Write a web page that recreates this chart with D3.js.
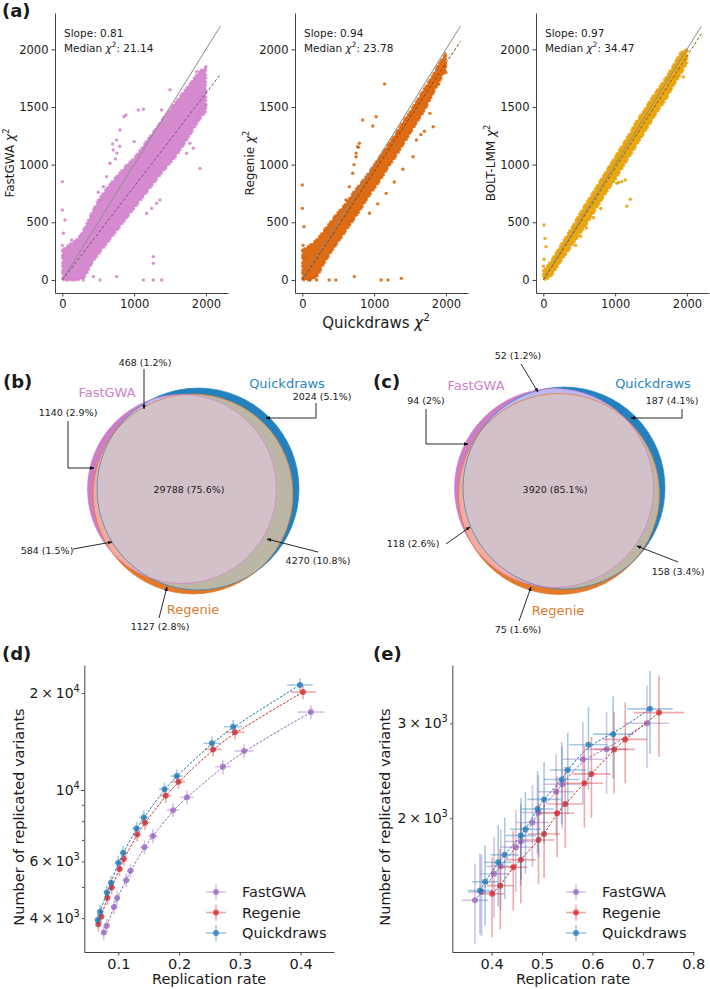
<!DOCTYPE html>
<html>
<head>
<meta charset="utf-8">
<script src="https://cdn.jsdelivr.net/npm/d3@7"></script>
<style>
body { margin: 0; background: #fff; }
text { font-family: "DejaVu Sans", sans-serif; fill: #1a1a1a; }
</style>
</head>
<body>
<svg id="fig" width="710" height="989"></svg>
<script>
// ---------- (a) chi-square scatter ----------
const methodsA = ['FastGWA', 'Regenie', 'BOLT-LMM'];
const slopesA = [0.81, 0.94, 0.97];
const medianChi2 = ['21.14', '23.78', '34.47'];
const chiTicksY = [0, 500, 1000, 1500, 2000];
const chiTicksX = [0, 1000, 2000];

// dense core of each cloud: lower / upper edge at bandX
const bandX = [0, 100, 200, 300, 400, 500, 600, 700, 800, 900, 1000, 1100, 1200, 1300, 1400, 1500, 1600, 1700, 1800, 1900, 2000];
const fastgwaHi = [260, 310, 350, 440, 570, 690, 780, 860, 930, 1000, 1060, 1140, 1230, 1310, 1400, 1480, 1560, 1640, 1720, 1800, 1840];
const fastgwaLo = [0, 0, 0, 20, 130, 220, 300, 380, 460, 540, 620, 700, 780, 860, 940, 1010, 1090, 1180, 1280, 1380, 1460];
const regenieHi = [260, 300, 350, 430, 510, 590, 660, 750, 830, 910, 1000, 1090, 1180, 1270, 1370, 1460, 1560, 1660, 1760, 1870, 1970];
const regenieLo = [0, 0, 30, 140, 240, 330, 420, 510, 600, 700, 790, 880, 980, 1070, 1170, 1270, 1370, 1470, 1590, 1710, 1830];
const boltHi = [80, 160, 260, 360, 460, 570, 670, 770, 870, 970, 1070, 1170, 1270, 1380, 1470, 1570, 1660, 1750, 1850, 1960, 2000];
const boltLo = [0, 30, 120, 210, 300, 390, 480, 580, 680, 780, 870, 970, 1070, 1170, 1270, 1370, 1470, 1560, 1670, 1770, 1880];

// scattered points outside the core
const fastgwaPts = [[0, 853], [0, 607], [14, 405], [37, 520], [0, 300], [10, 200], [60, 0], [150, 0], [200, 10],
  [292, 0], [524, 0], [1128, 0], [1267, 0], [1383, 0], [1267, 202], [1267, 145], [756, 29], [432, 29],
  [93, 289], [130, 347], [450, 620], [500, 760], [524, 694], [571, 809], [617, 896], [664, 1012], [710, 1127],
  [756, 1214], [803, 1300], [858, 1416], [886, 1430], [700, 1180], [760, 1100], [800, 1160], [740, 1050],
  [1000, 1200], [1058, 1474], [1128, 1480], [1383, 1474], [1174, 578], [1244, 621], [1313, 665], [1360, 694],
  [1600, 1240], [1731, 1098], [1777, 1185], [1824, 1142], [1916, 968], [1500, 1650], [1870, 1806], [1940, 1820],
  [2000, 1850], [1950, 1600], [2000, 1520], [1900, 1450]];
const regeniePts = [[0, 824], [0, 621], [23, 462], [10, 300], [30, 200], [100, 0], [200, 0], [374, 0], [467, 0],
  [1098, 0], [1192, 0], [1379, 14], [724, 29], [607, 694], [654, 809], [701, 925], [748, 1069], [771, 1156],
  [794, 1185], [720, 1000], [750, 1100], [780, 1150], [841, 1387], [981, 1335], [1028, 1416], [1145, 1699],
  [935, 578], [1050, 660], [1168, 751], [1280, 850], [1400, 960], [1542, 1069], [1589, 1214], [1650, 1260],
  [1700, 1290], [1776, 1445], [1822, 1329], [1900, 1700], [2000, 1800]];
const boltPts = [[9, 477], [23, 361], [37, 289], [0, 120], [10, 180], [450, 300], [520, 380], [600, 450],
  [700, 540], [800, 620], [1023, 838], [1047, 845], [1093, 853], [1140, 867], [1163, 640], [1210, 700],
  [1767, 1647], [1860, 1763], [1884, 1821], [1950, 1760], [2000, 1990]];

// ---------- (b), (c) Venn ----------
// region order: FastGWA only, Quickdraws only, Regenie only, F&Q, F&R, Q&R, all three
const vennRegions = ['F', 'Q', 'R', 'FQ', 'FR', 'QR', 'FQR'];
const vennB = [1140, 2024, 1127, 468, 584, 4270, 29788];
const vennBPct = ['2.9%', '5.1%', '2.8%', '1.2%', '1.5%', '10.8%', '75.6%'];
const vennC = [94, 187, 75, 52, 118, 158, 3920];
const vennCPct = ['2%', '4.1%', '1.6%', '1.2%', '2.6%', '3.4%', '85.1%'];

// ---------- (d), (e) replication ----------
const repNames = ['FastGWA', 'Regenie', 'Quickdraws'];
const dFastRate = [0.076, 0.081, 0.093, 0.098, 0.113, 0.120, 0.143, 0.157, 0.190, 0.213, 0.272, 0.307, 0.417];
const dFastN = [3610, 3790, 4330, 4620, 5250, 5610, 6640, 7200, 8660, 9490, 11810, 13220, 17460];
const dFastRateErr = [0.004, 0.004, 0.005, 0.005, 0.006, 0.006, 0.007, 0.008, 0.010, 0.011, 0.013, 0.016, 0.022];
const dFastNErr = [180, 190, 215, 230, 260, 280, 330, 360, 430, 470, 590, 660, 870];
const dRegRate = [0.067, 0.072, 0.082, 0.089, 0.102, 0.109, 0.131, 0.144, 0.178, 0.199, 0.256, 0.292, 0.404];
const dRegN = [3830, 4050, 4630, 4980, 5690, 6110, 7280, 7910, 9600, 10610, 13370, 15110, 20140];
const dRegRateErr = [0.004, 0.004, 0.005, 0.005, 0.006, 0.006, 0.007, 0.008, 0.009, 0.011, 0.014, 0.016, 0.021];
const dRegNErr = [190, 200, 230, 250, 285, 305, 365, 395, 480, 530, 670, 760, 1000];
const dQdRate = [0.066, 0.070, 0.081, 0.088, 0.100, 0.108, 0.130, 0.142, 0.176, 0.196, 0.254, 0.289, 0.399];
const dQdN = [3946, 4190, 4810, 5150, 5940, 6380, 7600, 8220, 10050, 11050, 13960, 15730, 21200];
const dQdRateErr = [0.004, 0.004, 0.005, 0.005, 0.006, 0.006, 0.007, 0.008, 0.009, 0.010, 0.014, 0.015, 0.021];
const dQdNErr = [200, 210, 240, 260, 300, 320, 380, 410, 500, 550, 700, 800, 1050];
const dTicksX = [0.1, 0.2, 0.3, 0.4];
const dTicksY = [4000, 5000, 6000, 7000, 8000, 9000, 10000, 20000];
const dLabelsY = [4000, 6000, 10000, 20000];

const eFastRate = [0.367, 0.380, 0.405, 0.418, 0.448, 0.458, 0.481, 0.493, 0.528, 0.540, 0.581, 0.628, 0.708];
const eFastN = [1409, 1460, 1578, 1629, 1768, 1811, 1964, 2050, 2240, 2313, 2573, 2686, 3000];
const eFastRateErr = [0.026, 0.027, 0.028, 0.029, 0.031, 0.032, 0.033, 0.034, 0.036, 0.037, 0.040, 0.042, 0.044];
const eFastNErr = [240, 250, 270, 280, 305, 310, 340, 355, 390, 400, 445, 465, 520];
const eRegRate = [0.401, 0.417, 0.443, 0.458, 0.493, 0.504, 0.530, 0.546, 0.584, 0.598, 0.643, 0.665, 0.732];
const eRegN = [1449, 1500, 1623, 1675, 1823, 1870, 2044, 2126, 2323, 2417, 2684, 2801, 3140];
const eRegRateErr = [0.025, 0.026, 0.028, 0.029, 0.031, 0.032, 0.034, 0.035, 0.037, 0.038, 0.041, 0.043, 0.050];
const eRegNErr = [245, 255, 275, 285, 310, 320, 350, 365, 400, 415, 460, 480, 540];
const eQdRate = [0.377, 0.387, 0.413, 0.426, 0.458, 0.467, 0.491, 0.504, 0.539, 0.551, 0.592, 0.641, 0.714];
const eQdN = [1469, 1525, 1657, 1711, 1858, 1908, 2081, 2168, 2360, 2458, 2737, 2864, 3191];
const eQdRateErr = [0.025, 0.026, 0.027, 0.028, 0.030, 0.031, 0.032, 0.033, 0.035, 0.036, 0.038, 0.040, 0.045];
const eQdNErr = [250, 260, 285, 295, 320, 330, 360, 375, 410, 425, 475, 500, 560];
const eTicksX = [0.4, 0.5, 0.6, 0.7, 0.8];
const eTicksY = [2000, 3000];

const svg = d3.select('#fig');
const defs = svg.append('defs');
defs.append('marker').attr('id', 'arr')
    .attr('viewBox', '0 0 10 10').attr('refX', 9).attr('refY', 5)
    .attr('markerWidth', 5).attr('markerHeight', 5).attr('orient', 'auto')
  .append('path').attr('d', 'M0,1L10,5L0,9Z').attr('fill', '#111');

const panelLabel = (t, x, y) => svg.append('text').attr('x', x).attr('y', y)
    .attr('font-size', 18).attr('font-weight', 'bold').text(t);

// chi^2 with superscript, size in px
function addChi(sel, before, after, size) {
    sel.append('tspan').text(before);
    sel.append('tspan').attr('font-style', 'italic').text('χ');
    sel.append('tspan').attr('dy', -0.45 * size).attr('font-size', size * 0.7).text('2');
    sel.append('tspan').attr('dy', 0.45 * size).text(after);
}

// ---------- draw (a) ----------
const colsA = ['#d281cc', '#d95f02', '#e69f00'];
const fitColsA = ['#7a4a78', '#8a3c00', '#8a6000'];
const bandsA = [[fastgwaLo, fastgwaHi], [regenieLo, regenieHi], [boltLo, boltHi]];
const ptsA = [fastgwaPts, regeniePts, boltPts];
const aLefts = [55, 295, 536];

methodsA.forEach((m, i) => {
    const left = aLefts[i];
    const x = d3.scaleLinear().domain([-102, 2307]).range([left, left + 173]);
    const y = d3.scaleLinear().domain([-113, 2315]).range([293, 13]);
    const g = svg.append('g');
    const [lo, hi] = bandsA[i];

    const area = d3.area()
        .x(d => x(d))
        .y0((d, j) => y(lo[j]))
        .y1((d, j) => y(hi[j]))
        .curve(d3.curveMonotoneX);
    g.append('path').datum(bandX).attr('d', area)
        .attr('fill', colsA[i]).attr('fill-opacity', 0.92)
        .attr('stroke', colsA[i]).attr('stroke-width', 3).attr('stroke-opacity', 0.75)
        .attr('stroke-linecap', 'round').attr('stroke-dasharray', '0.1 2.4 0.1 4.2 0.1 3.1 0.1 5');

    g.selectAll('circle.pt').data(ptsA[i]).enter().append('circle')
        .attr('class', 'pt')
        .attr('cx', d => x(d[0])).attr('cy', d => y(d[1])).attr('r', 1.7)
        .attr('fill', colsA[i]).attr('fill-opacity', 0.85);

    // identity and fitted slope
    g.append('line').attr('x1', x(0)).attr('y1', y(0)).attr('x2', x(2200)).attr('y2', y(2200))
        .attr('stroke', '#8c8c8c').attr('stroke-width', 1);
    g.append('line').attr('x1', x(0)).attr('y1', y(0)).attr('x2', x(2200)).attr('y2', y(2200 * slopesA[i]))
        .attr('stroke', fitColsA[i]).attr('stroke-width', 1).attr('stroke-dasharray', '3 2');

    const ax = g.append('g').attr('transform', 'translate(0,293)')
        .call(d3.axisBottom(x).tickValues(chiTicksX).tickFormat(d3.format('d'))
            .tickSize(3.5).tickPadding(3).tickSizeOuter(0));
    const ay = g.append('g').attr('transform', `translate(${left},0)`)
        .call(d3.axisLeft(y).tickValues(chiTicksY).tickFormat(d3.format('d'))
            .tickSize(3.5).tickPadding(3).tickSizeOuter(0));
    [ax, ay].forEach(a => {
        a.selectAll('text').attr('font-size', 11.5).attr('font-family', '"DejaVu Sans", sans-serif').attr('fill', '#222');
        a.selectAll('path,line').attr('stroke', '#444');
    });

    const t1 = g.append('text').attr('x', left + 9).attr('y', 37).attr('font-size', 10.5);
    t1.text(`Slope: ${slopesA[i]}`);
    const t2 = g.append('text').attr('x', left + 9).attr('y', 52).attr('font-size', 10.5);
    addChi(t2, 'Median ', `: ${medianChi2[i]}`, 10.5);

    const yl = g.append('text').attr('font-size', 12).attr('text-anchor', 'middle')
        .attr('transform', `translate(${left - 41},163) rotate(-90)`);
    addChi(yl, m + ' ', '', 12);
});
const xlA = svg.append('text').attr('x', 376).attr('y', 328).attr('font-size', 15).attr('text-anchor', 'middle');
addChi(xlA, 'Quickdraws ', '', 15);
panelLabel('(a)', 2, 17);

// ---------- draw (b), (c) ----------
const regionCols = { F: '#cb7ec5', Q: '#2381bd', R: '#e17a2b', FQ: '#bdb9f0', FR: '#f4aa9f', QR: '#bcb6a7', FQR: '#d3c1ca' };
const setCols = { F: '#d080c9', Q: '#2a86c0', R: '#e07a2b' };
const setNames = { F: 'FastGWA', Q: 'Quickdraws', R: 'Regenie' };

function venn(id, counts, pcts, lay) {
    const size = {
        F: counts[0] + counts[3] + counts[4] + counts[6],
        Q: counts[1] + counts[3] + counts[5] + counts[6],
        R: counts[2] + counts[4] + counts[5] + counts[6]
    };
    const r = d3.scaleSqrt().domain([0, d3.max(Object.values(size))]).range([0, 101]);
    ['F', 'Q', 'R'].forEach(k => defs.append('clipPath').attr('id', id + k)
        .append('circle').attr('cx', lay.c[k][0]).attr('cy', lay.c[k][1]).attr('r', r(size[k])));
    const g = svg.append('g');
    const circ = (parent, k, fill) => parent.append('circle')
        .attr('cx', lay.c[k][0]).attr('cy', lay.c[k][1]).attr('r', r(size[k])).attr('fill', fill);
    circ(g, 'Q', regionCols.Q);
    circ(g, 'R', regionCols.R);
    circ(g, 'F', regionCols.F);
    circ(g.append('g').attr('clip-path', `url(#${id}Q)`), 'R', regionCols.QR);
    circ(g.append('g').attr('clip-path', `url(#${id}Q)`), 'F', regionCols.FQ);
    circ(g.append('g').attr('clip-path', `url(#${id}R)`), 'F', regionCols.FR);
    circ(g.append('g').attr('clip-path', `url(#${id}Q)`).append('g').attr('clip-path', `url(#${id}R)`), 'F', regionCols.FQR);
    ['Q', 'R', 'F'].forEach(k => circ(g, k, 'none')
        .attr('stroke', setCols[k]).attr('stroke-width', 0.8).attr('stroke-opacity', 0.9));

    vennRegions.forEach((reg, j) => {
        const [tx, ty] = lay.text[reg];
        g.append('text').attr('x', tx).attr('y', ty).attr('dy', '0.35em')
            .attr('text-anchor', 'middle').attr('font-size', 9.5).attr('fill', '#222')
            .text(`${counts[j]} (${pcts[j]})`);
        if (lay.arrow[reg]) {
            g.append('path').attr('d', d3.line()(lay.arrow[reg]))
                .attr('fill', 'none').attr('stroke', '#111').attr('stroke-width', 0.9)
                .attr('marker-end', 'url(#arr)');
        }
    });
    ['F', 'Q', 'R'].forEach(k => g.append('text')
        .attr('x', lay.name[k][0]).attr('y', lay.name[k][1]).attr('dy', '0.35em')
        .attr('text-anchor', 'middle').attr('font-size', 13)
        .style('fill', setCols[k]).text(setNames[k]));
}

venn('vb', vennB, vennBPct, {
    c: { F: [182, 489], Q: [198, 489], R: [193, 494] },
    name: { F: [107, 392], Q: [287, 383], R: [193, 609] },
    text: { F: [68, 413], Q: [322, 397], R: [160, 627], FQ: [145, 363], FR: [47, 551], QR: [318, 561], FQR: [189, 490] },
    arrow: {
        F: [[68, 421], [68, 468], [94, 468]],
        Q: [[316, 403], [316, 418], [266, 418]],
        R: [[159, 618], [167, 587]],
        FQ: [[144, 369], [144, 409]],
        FR: [[73, 549], [112, 542]],
        QR: [[318, 552], [267, 539]]
    }
});
venn('vc', vennC, vennCPct, {
    c: { F: [554, 488], Q: [564, 488], R: [559, 494] },
    name: { F: [476, 385], Q: [653, 383], R: [558, 610] },
    text: { F: [426, 401], Q: [672, 401], R: [518, 630], FQ: [518, 356], FR: [413, 544], QR: [678, 572], FQR: [555, 490] },
    arrow: {
        F: [[426, 409], [426, 444], [468, 444]],
        Q: [[682, 409], [682, 418], [631, 418]],
        R: [[519, 621], [531, 587]],
        FQ: [[521, 364], [538, 392]],
        FR: [[446, 544], [470, 527]],
        QR: [[678, 562], [637, 546]]
    }
});
panelLabel('(b)', 3, 388);
panelLabel('(c)', 373, 388);

// ---------- draw (d), (e) ----------
const repCols = ['#9467bd', '#d62728', '#1f77b4'];

function supLabel(sel, v, size) {
    const e = Math.floor(Math.log10(v) + 1e-9);
    const m = Math.round(v / Math.pow(10, e));
    sel.append('tspan').text(m === 1 ? '10' : `${m}\u2009×\u200910`);
    sel.append('tspan').attr('dy', -0.45 * size).attr('font-size', size * 0.7).text(e);
}

function repPanel(o) {
    const top = 665, bottom = 952;
    const x = d3.scaleLinear().domain(o.xDom).range([o.left, o.right]);
    const y = d3.scaleLog().domain(o.yDom).range([bottom, top]);
    const g = svg.append('g');

    const gx = g.append('g').attr('transform', `translate(0,${bottom})`)
        .call(d3.axisBottom(x).tickValues(o.xTicks).tickFormat(d3.format('.1f'))
            .tickSize(3.5).tickPadding(3.5).tickSizeOuter(0));
    gx.selectAll('text').attr('font-size', 14.5).attr('font-family', '"DejaVu Sans", sans-serif').attr('fill', '#222');
    const gy = g.append('g').attr('transform', `translate(${o.left},0)`)
        .call(d3.axisLeft(y).tickValues(o.yTicks).tickFormat(() => '').tickSize(2.5).tickSizeOuter(0));
    gy.selectAll('.tick line').attr('x2', d => d === 10000 ? -3.5 : -2.2);
    gy.selectAll('.tick').filter(d => o.yLabels.includes(d)).append('text')
        .attr('x', -4.5).attr('dy', '0.32em').attr('text-anchor', 'end')
        .attr('font-size', 14).attr('fill', '#222').attr('stroke', 'none')
        .each(function (d) { supLabel(d3.select(this), d, 14); });
    [gx, gy].forEach(a => a.selectAll('path,line').attr('stroke', '#444'));

    o.series.forEach((s, k) => {
        const pts = s.rate.map((r, i) => ({ r, n: s.n[i], re: s.re[i], ne: s.ne[i] }));
        const col = repCols[k];
        g.append('path').datum(pts)
            .attr('d', d3.line().x(d => x(d.r)).y(d => y(d.n)).curve(d3.curveBasis))
            .attr('fill', 'none').attr('stroke', col).attr('stroke-width', 1).attr('stroke-dasharray', '2.5 1.5');
        const eb = g.append('g').attr('stroke', col).attr('stroke-opacity', 0.4).attr('stroke-width', 1.6);
        eb.selectAll('line.h').data(pts).enter().append('line')
            .attr('x1', d => x(d.r - d.re)).attr('x2', d => x(d.r + d.re))
            .attr('y1', d => y(d.n)).attr('y2', d => y(d.n));
        eb.selectAll('line.v').data(pts).enter().append('line')
            .attr('x1', d => x(d.r)).attr('x2', d => x(d.r))
            .attr('y1', d => y(d.n - d.ne)).attr('y2', d => y(d.n + d.ne));
        g.selectAll(null).data(pts).enter().append('circle')
            .attr('cx', d => x(d.r)).attr('cy', d => y(d.n)).attr('r', 3)
            .attr('fill', col).attr('fill-opacity', 0.75);
    });

    // legend
    repNames.forEach((nm, k) => {
        const ly = 892 + k * 20.5, lx = o.legX;
        const col = repCols[k];
        g.append('line').attr('x1', lx - 10).attr('x2', lx + 10).attr('y1', ly).attr('y2', ly)
            .attr('stroke', col).attr('stroke-opacity', 0.4).attr('stroke-width', 1.6);
        g.append('line').attr('x1', lx).attr('x2', lx).attr('y1', ly - 8).attr('y2', ly + 8)
            .attr('stroke', col).attr('stroke-opacity', 0.4).attr('stroke-width', 1.6);
        g.append('circle').attr('cx', lx).attr('cy', ly).attr('r', 3).attr('fill', col).attr('fill-opacity', 0.75);
        g.append('text').attr('x', lx + 26).attr('y', ly).attr('dy', '0.35em')
            .attr('font-size', 14.5).text(nm);
    });

    g.append('text').attr('text-anchor', 'middle').attr('font-size', 14.5)
        .attr('transform', `translate(${o.yLabX},817) rotate(-90)`).attr('dy', '0.35em')
        .text('Number of replicated variants');
    g.append('text').attr('x', (o.left + o.right) / 2).attr('y', 984)
        .attr('text-anchor', 'middle').attr('font-size', 14.5).text('Replication rate');
}

repPanel({
    left: 84.3, right: 334, xDom: [0.044, 0.455], yDom: [3141, 24440],
    xTicks: dTicksX, yTicks: dTicksY, yLabels: dLabelsY, legX: 216, yLabX: 19,
    series: [
        { rate: dFastRate, n: dFastN, re: dFastRateErr, ne: dFastNErr },
        { rate: dRegRate, n: dRegN, re: dRegRateErr, ne: dRegNErr },
        { rate: dQdRate, n: dQdN, re: dQdRateErr, ne: dQdNErr }
    ]
});
repPanel({
    left: 452.3, right: 694, xDom: [0.322, 0.8014], yDom: [1130, 3848],
    xTicks: eTicksX, yTicks: eTicksY, yLabels: eTicksY, legX: 576, yLabX: 385,
    series: [
        { rate: eFastRate, n: eFastN, re: eFastRateErr, ne: eFastNErr },
        { rate: eRegRate, n: eRegN, re: eRegRateErr, ne: eRegNErr },
        { rate: eQdRate, n: eQdN, re: eQdRateErr, ne: eQdNErr }
    ]
});
panelLabel('(d)', 2, 660);
panelLabel('(e)', 373, 660);
</script>
</body>
</html>
